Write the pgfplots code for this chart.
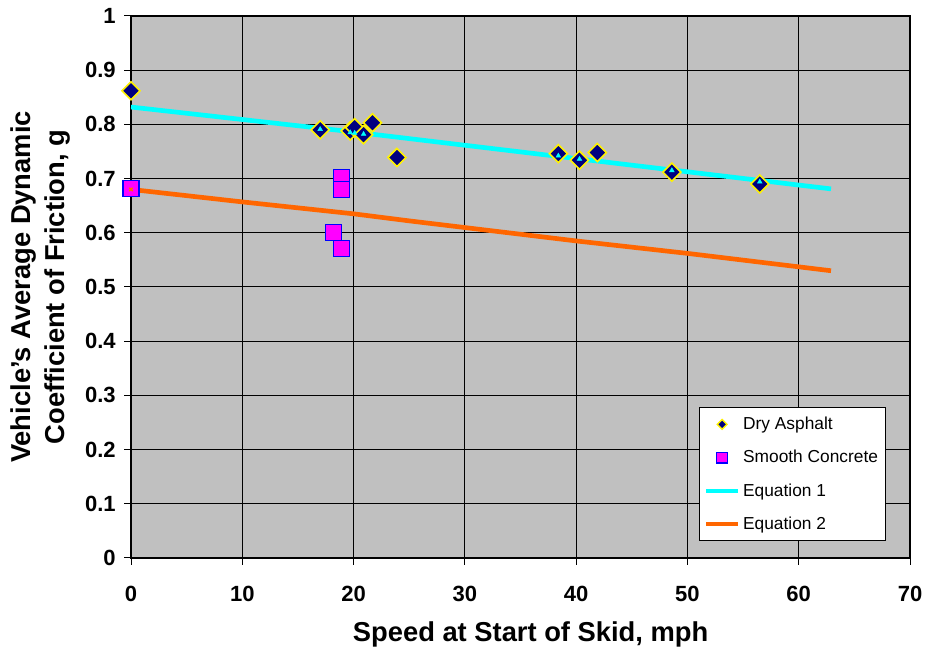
\documentclass[border=0pt]{standalone}
\usepackage{fontspec}
\setmainfont{Liberation Sans}
\usepackage{pgfplots}
\pgfplotsset{compat=1.18}
\definecolor{bg}{HTML}{C0C0C0}
\definecolor{navy}{HTML}{000080}
\definecolor{mag}{HTML}{FF00FF}
\definecolor{eqone}{HTML}{00FFFF}
\definecolor{eqtwo}{HTML}{FF6600}
\begin{document}
\begin{tikzpicture}
\begin{axis}[name=ax, set layers, scale only axis,
  width=584.25pt, height=406.5pt,
  xmin=0, xmax=70, ymin=0, ymax=1,
  xtick={0,10,20,30,40,50,60,70},
  ytick={0,0.1,0.2,0.3,0.4,0.5,0.6,0.7,0.8,0.9,1},
  grid=major, grid style={black, line width=0.75pt},
  axis line style={black, line width=0.9pt},
  tick align=outside, xtick pos=left, ytick pos=left,
  major tick length=5pt, tick style={black, line width=0.75pt},
  axis background/.style={fill=bg},
  /pgf/number format/assume math mode=true,
  ticklabel style={font=\bfseries\fontsize{16.5}{18}\selectfont},
  xticklabel style={yshift=-12.5pt},
  yticklabel style={xshift=-3pt, /pgf/number format/fixed, /pgf/number format/precision=1},
  xlabel={Speed at Start of Skid, mph},
  ylabel={Vehicle's Average Dynamic\\Coefficient of Friction, g},
  xlabel style={at={(rel axis cs:0.513,0)}, anchor=center, yshift=-57pt, font=\bfseries\fontsize{20.5}{24}\selectfont},
  ylabel style={at={([xshift=-68pt]rel axis cs:0,0.5)}, anchor=center, align=center, font=\bfseries\fontsize{20.5}{26}\selectfont},
  legend style={at={(rel axis cs:0.969,0.031)}, anchor=south east, draw=black, fill=white,
    line width=0.75pt, inner xsep=3.5pt, inner ysep=5pt, row sep=10pt,
    font=\fontsize{13}{15}\selectfont, cells={anchor=west}},
]
\addplot[only marks, mark=square*, mark size=4.8pt, mark options={rotate=45, fill=navy, draw=yellow, line width=1.2pt},
  legend image code/.code={\draw[mark=square*, mark size=2.6pt, mark options={rotate=45, fill=navy, draw=yellow, line width=1pt}] plot coordinates {(12pt,0pt)};}]
coordinates {(0,0.862) (17.0,0.790) (19.7,0.788) (20.1,0.794) (20.9,0.781) (21.7,0.803) (23.9,0.739)
 (38.4,0.746) (40.3,0.734) (41.9,0.748) (48.6,0.712) (56.5,0.690)};
\addlegendentry{Dry Asphalt}
\addplot[only marks, mark=square*, mark size=6pt, mark options={fill=mag, draw=blue, line width=1pt},
  legend image code/.code={\draw[mark=square*, mark size=4pt, mark options={fill=mag, draw=blue, line width=1pt}] plot coordinates {(12pt,0pt)};}]
coordinates {(0,0.682) (18.9,0.702) (18.9,0.680) (18.2,0.601) (18.9,0.571)};
\addlegendentry{Smooth Concrete}
\addplot[on layer=pre main, no marks, eqone, line width=3.5pt,
  legend image code/.code={\draw[eqone, line width=3.5pt] (0pt,0pt) -- (24pt,0pt);}]
coordinates {(0,0.832) (20,0.786) (40,0.737) (62.9,0.681)};
\addlegendentry{Equation 1}
\addplot[on layer=pre main, no marks, eqtwo, line width=3.5pt,
  legend image code/.code={\draw[eqtwo, line width=3.5pt] (0pt,0pt) -- (24pt,0pt);}]
coordinates {(0,0.680) (10,0.657) (20,0.635) (25,0.622) (40,0.585) (50,0.562) (62.9,0.530)};
\addlegendentry{Equation 2}
% small markers of the equation series, visible where they fall on a data marker
\addplot[forget plot, only marks, mark=triangle*, mark size=2pt, eqone]
coordinates {(17.0,0.791) (19.7,0.785) (20.1,0.784) (20.9,0.782) (38.4,0.742) (40.3,0.736) (48.6,0.715) (56.5,0.694)};
\addplot[forget plot, only marks, mark=x, mark size=1.8pt, eqtwo, line width=1pt]
coordinates {(0,0.680)};
\end{axis}
\path ([shift={(-98.25pt,-70.5pt)}]ax.south west) rectangle ([shift={(12.75pt,12pt)}]ax.north east);
\end{tikzpicture}
\end{document}
